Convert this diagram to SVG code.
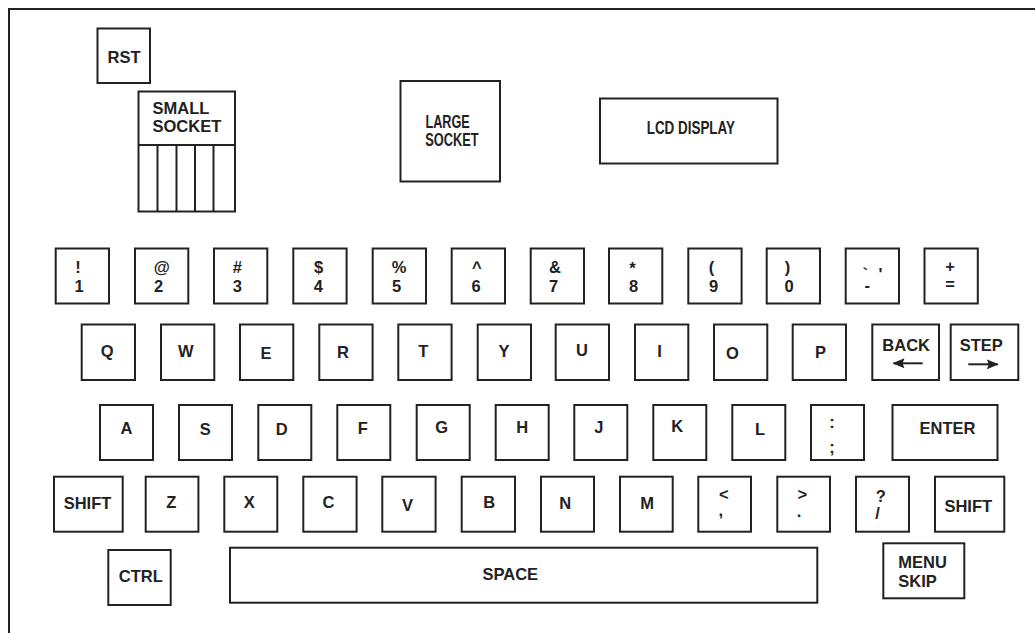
<svg xmlns="http://www.w3.org/2000/svg" width="1035" height="633" viewBox="0 0 1035 633">
<style>
.k{fill:#fff;stroke:#222;stroke-width:2}
.ln{fill:none;stroke:#222;stroke-width:2}
.t{font-family:"Liberation Sans",Arial,Helvetica,sans-serif;font-weight:bold;font-size:16.5px;fill:#222;text-anchor:middle}
.s{text-anchor:start}
.c{font-size:18px;text-anchor:start}
.ar{fill:none;stroke:#222;stroke-width:2}
</style>
<defs>
<marker id="ah" viewBox="0 0 12 10" refX="11" refY="5" markerWidth="12" markerHeight="10" markerUnits="userSpaceOnUse" orient="auto">
<path d="M0,0 L12,5 L0,10 L2,5 Z" fill="#222"/>
</marker>
</defs>
<rect width="1035" height="633" fill="#fff"/>
<g id="frame"><path class="ln" d="M9,633 V9 H1035"/></g>

<g id="rst"><rect class="k" x="97.5" y="28.5" width="52.5" height="54.5"/><text class="t" x="124" y="63">RST</text></g>
<g id="small-socket">
<rect class="k" x="138.5" y="91.5" width="96.5" height="120"/>
<path class="ln" d="M138.5,145 H235 M157.5,145 V211.5 M176.5,145 V211.5 M195,145 V211.5 M213.5,145 V211.5"/>
<text class="t s" x="152.5" y="113.5">SMALL</text><text class="t s" x="152.5" y="132">SOCKET</text>
</g>
<g id="large-socket"><rect class="k" x="400.5" y="81" width="99.5" height="100.5"/>
<text class="t c" x="425.5" y="127.7" textLength="44.3" lengthAdjust="spacingAndGlyphs">LARGE</text>
<text class="t c" x="425.3" y="146" textLength="53.3" lengthAdjust="spacingAndGlyphs">SOCKET</text></g>
<g id="lcd-display"><rect class="k" x="600" y="98.5" width="177.5" height="65"/>
<text class="t c" x="646.7" y="134" textLength="88.3" lengthAdjust="spacingAndGlyphs">LCD DISPLAY</text></g>

<!-- number row -->
<g id="key-1"><rect class="k" x="55.7" y="248.5" width="53.3" height="55"/><text class="t" x="78" y="273.3">!</text><text class="t" x="79.2" y="291.7">1</text></g>
<g id="key-2"><rect class="k" x="135" y="248.5" width="53.3" height="55"/><text class="t" x="161.7" y="273.3">@</text><text class="t" x="158.7" y="291.7">2</text></g>
<g id="key-3"><rect class="k" x="214" y="248.5" width="53.3" height="55"/><text class="t" x="237.3" y="273.3">#</text><text class="t" x="237.3" y="291.7">3</text></g>
<g id="key-4"><rect class="k" x="293.3" y="248.5" width="53.3" height="55"/><text class="t" x="318.7" y="273.3">$</text><text class="t" x="318.3" y="291.7">4</text></g>
<g id="key-5"><rect class="k" x="372.7" y="248.5" width="53.3" height="55"/><text class="t" x="399" y="273.3">%</text><text class="t" x="396.7" y="291.7">5</text></g>
<g id="key-6"><rect class="k" x="451.7" y="248.5" width="53.3" height="55"/><text class="t" x="476.7" y="273.3">^</text><text class="t" x="476" y="291.7">6</text></g>
<g id="key-7"><rect class="k" x="530.7" y="248.5" width="53.3" height="55"/><text class="t" x="555" y="273.3">&amp;</text><text class="t" x="553.7" y="291.7">7</text></g>
<g id="key-8"><rect class="k" x="609" y="248.5" width="53.3" height="55"/><text class="t" x="632.5" y="273.7">*</text><text class="t" x="633.7" y="291.7">8</text></g>
<g id="key-9"><rect class="k" x="688.3" y="248.5" width="53.3" height="55"/><text class="t" x="711.5" y="273.3">(</text><text class="t" x="713.7" y="291.7">9</text></g>
<g id="key-0"><rect class="k" x="766.7" y="248.5" width="53.3" height="55"/><text class="t" x="787.5" y="273.3">)</text><text class="t" x="789.2" y="291.7">0</text></g>
<g id="key-minus"><rect class="k" x="845.7" y="248.5" width="53.3" height="55"/><text class="t" x="872.5" y="279.5" word-spacing="6">` '</text><text class="t" x="867.2" y="291">-</text></g>
<g id="key-equals"><rect class="k" x="924.5" y="248.5" width="53.3" height="55"/><text class="t" x="950" y="272">+</text><text class="t" x="950" y="290">=</text></g>

<!-- qwerty row -->
<g id="key-q"><rect class="k" x="81.7" y="324.5" width="53.3" height="55.5"/><text class="t" x="107.2" y="357.3">Q</text></g>
<g id="key-w"><rect class="k" x="161" y="324.5" width="53.3" height="55.5"/><text class="t" x="185.8" y="356.7">W</text></g>
<g id="key-e"><rect class="k" x="240" y="324.5" width="53.3" height="55.5"/><text class="t" x="266" y="359.3">E</text></g>
<g id="key-r"><rect class="k" x="319.3" y="324.5" width="53.3" height="55.5"/><text class="t" x="343" y="358.3">R</text></g>
<g id="key-t"><rect class="k" x="398.3" y="324.5" width="53.3" height="55.5"/><text class="t" x="423.3" y="357">T</text></g>
<g id="key-y"><rect class="k" x="477.7" y="324.5" width="53.3" height="55.5"/><text class="t" x="504" y="357">Y</text></g>
<g id="key-u"><rect class="k" x="555.7" y="324.5" width="53.3" height="55.5"/><text class="t" x="582" y="355.7">U</text></g>
<g id="key-i"><rect class="k" x="635" y="324.5" width="53.3" height="55.5"/><text class="t" x="659.5" y="357.3">I</text></g>
<g id="key-o"><rect class="k" x="714" y="324.5" width="53.3" height="55.5"/><text class="t" x="732.5" y="359.3">O</text></g>
<g id="key-p"><rect class="k" x="792.7" y="324.5" width="53.3" height="55.5"/><text class="t" x="820.5" y="358.3">P</text></g>
<g id="key-back"><rect class="k" x="872.3" y="324.5" width="66.7" height="55.5"/><text class="t" x="906.2" y="350.7">BACK</text>
<path class="ar" d="M922.7,363.3 H893.5" marker-end="url(#ah)"/></g>
<g id="key-step"><rect class="k" x="950.7" y="324.5" width="67.6" height="55.5"/><text class="t" x="981.3" y="350.7">STEP</text>
<path class="ar" d="M968.3,364.3 H997.8" marker-end="url(#ah)"/></g>

<!-- home row -->
<g id="key-a"><rect class="k" x="100" y="405" width="53" height="55"/><text class="t" x="126.5" y="434">A</text></g>
<g id="key-s"><rect class="k" x="179" y="405" width="53" height="55"/><text class="t" x="205.3" y="435">S</text></g>
<g id="key-d"><rect class="k" x="258.3" y="405" width="53" height="55"/><text class="t" x="281.7" y="435">D</text></g>
<g id="key-f"><rect class="k" x="337.3" y="405" width="53" height="55"/><text class="t" x="362.8" y="434">F</text></g>
<g id="key-g"><rect class="k" x="416.7" y="405" width="53" height="55"/><text class="t" x="441.7" y="433.3">G</text></g>
<g id="key-h"><rect class="k" x="495.7" y="405" width="53" height="55"/><text class="t" x="522.2" y="433.3">H</text></g>
<g id="key-j"><rect class="k" x="574.3" y="405" width="53" height="55"/><text class="t" x="598.8" y="433.3">J</text></g>
<g id="key-k"><rect class="k" x="653.3" y="405" width="53" height="55"/><text class="t" x="677.2" y="431.7">K</text></g>
<g id="key-l"><rect class="k" x="732.3" y="405" width="53" height="55"/><text class="t" x="760" y="435">L</text></g>
<g id="key-semicolon"><rect class="k" x="811" y="405" width="53" height="55"/><text class="t" x="832" y="428.3">:</text><text class="t" x="832" y="453.3">;</text></g>
<g id="key-enter"><rect class="k" x="892.5" y="405" width="105" height="55"/><text class="t" x="947.5" y="434">ENTER</text></g>

<!-- bottom letter row -->
<g id="key-shift-left"><rect class="k" x="54" y="476.7" width="68.7" height="55"/><text class="t" x="87.5" y="509">SHIFT</text></g>
<g id="key-z"><rect class="k" x="145.7" y="476.7" width="52.7" height="55"/><text class="t" x="171.2" y="508.3">Z</text></g>
<g id="key-x"><rect class="k" x="224.3" y="476.7" width="53" height="55"/><text class="t" x="249.2" y="508">X</text></g>
<g id="key-c"><rect class="k" x="303.3" y="476.7" width="53.3" height="55"/><text class="t" x="328.5" y="508">C</text></g>
<g id="key-v"><rect class="k" x="382.3" y="476.7" width="53.3" height="55"/><text class="t" x="407.5" y="510.7">V</text></g>
<g id="key-b"><rect class="k" x="461.7" y="476.7" width="53.3" height="55"/><text class="t" x="489.2" y="507.7">B</text></g>
<g id="key-n"><rect class="k" x="541" y="476.7" width="53" height="55"/><text class="t" x="565.2" y="509.3">N</text></g>
<g id="key-m"><rect class="k" x="620" y="476.7" width="52.7" height="55"/><text class="t" x="647" y="509">M</text></g>
<g id="key-comma"><rect class="k" x="698.3" y="476.7" width="52.7" height="55"/><text class="t" x="723.7" y="500">&lt;</text><text class="t" x="720.7" y="516">,</text></g>
<g id="key-period"><rect class="k" x="777.3" y="476.7" width="52.7" height="55"/><text class="t" x="802.2" y="500">&gt;</text><text class="t" x="799" y="516.7">.</text></g>
<g id="key-slash"><rect class="k" x="856" y="476.7" width="53" height="55"/><text class="t" x="880.7" y="501.7">?</text><text class="t" x="877.5" y="519">/</text></g>
<g id="key-shift-right"><rect class="k" x="935" y="476.7" width="69.3" height="55"/><text class="t" x="968.3" y="511.7">SHIFT</text></g>

<!-- bottom row -->
<g id="key-ctrl"><rect class="k" x="108.3" y="550" width="62.4" height="55"/><text class="t" x="140.8" y="581.7">CTRL</text></g>
<g id="key-space"><rect class="k" x="230" y="547.7" width="587.3" height="55"/><text class="t" x="510.3" y="580">SPACE</text></g>
<g id="key-menu-skip"><rect class="k" x="883.3" y="543.3" width="81" height="55"/><text class="t s" x="898.3" y="568.3">MENU</text><text class="t s" x="898.3" y="586.7">SKIP</text></g>
<g id="connectors"/>
</svg>
